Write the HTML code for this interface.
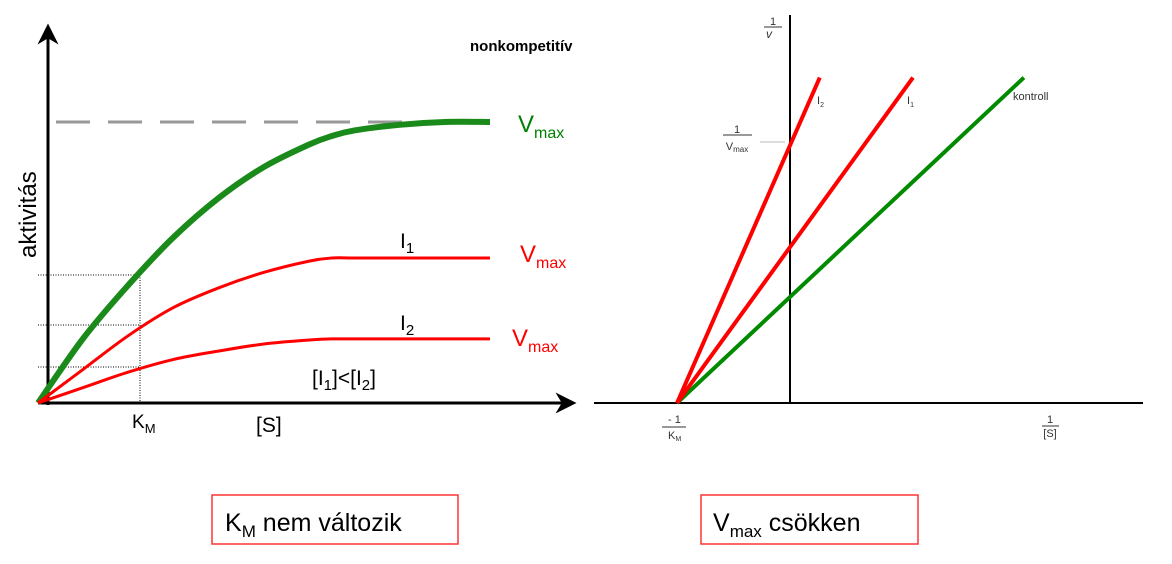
<!DOCTYPE html>
<html><head><meta charset="utf-8"><style>
body{margin:0;background:#fff;width:1172px;height:559px;overflow:hidden;font-family:"Liberation Sans",sans-serif}
svg text{font-family:"Liberation Sans",sans-serif}
</style></head><body>
<svg id="c" width="1172" height="559" xmlns="http://www.w3.org/2000/svg">
<defs>
<marker id="ah" viewBox="0 0 10 10" refX="5" refY="5" markerWidth="7" markerHeight="7" orient="auto"><path d="M0,0 L10,5 L0,10 L3,5 z" fill="#000"/></marker>
</defs>
<g id="left">
<line x1="38" y1="403" x2="566" y2="403" stroke="#000" stroke-width="3" marker-end="url(#ah)"/>
<line x1="48" y1="405" x2="48" y2="34" stroke="#000" stroke-width="3" marker-end="url(#ah)"/>
<line x1="56" y1="122" x2="405" y2="122" stroke="#999" stroke-width="3" stroke-dasharray="34,18"/>
<g id="dots" stroke="#000" stroke-width="1" stroke-dasharray="1,1.5">
<line x1="38" y1="275" x2="140" y2="275"/><line x1="38" y1="325" x2="140" y2="325"/><line x1="38" y1="367" x2="140" y2="367"/><line x1="140" y1="275" x2="140" y2="403"/>
</g>
<text x="0" y="0" transform="translate(36,258) rotate(-90)" font-size="24">aktivitás</text>
<text x="132" y="428" font-size="19">K<tspan font-size="13" dy="5">M</tspan></text>
<text x="256" y="432" font-size="21">[S]</text>
<text x="470" y="51" font-size="15" font-weight="bold">nonkompetitív</text>
<text x="518" y="132" font-size="24" fill="#008000">V<tspan font-size="16" dy="6">max</tspan></text>
<text x="520" y="262" font-size="24" fill="#f00">V<tspan font-size="16" dy="6">max</tspan></text>
<text x="512" y="346" font-size="24" fill="#f00">V<tspan font-size="16" dy="6">max</tspan></text>
<text x="400" y="248" font-size="21">I<tspan font-size="15" dy="5">1</tspan></text>
<text x="400" y="330" font-size="21">I<tspan font-size="15" dy="5">2</tspan></text>
<text x="312" y="385" font-size="21">[I<tspan font-size="15" dy="5">1</tspan><tspan dy="-5">]&lt;[I</tspan><tspan font-size="15" dy="5">2</tspan><tspan dy="-5">]</tspan></text>
</g>
<g id="right">
<line x1="594" y1="403" x2="1143" y2="403" stroke="#000" stroke-width="2"/>
<line x1="790" y1="15" x2="790" y2="404" stroke="#000" stroke-width="2"/>
<line x1="760" y1="142" x2="785" y2="142" stroke="#bbb" stroke-width="1"/>
<g font-size="11" fill="#333">
<text x="773" y="25" text-anchor="middle">1</text>
<line x1="764" y1="27" x2="782" y2="27" stroke="#333"/>
<text x="769" y="38" font-style="italic" font-size="12" text-anchor="middle">v</text>
<text x="737" y="133" text-anchor="middle">1</text>
<line x1="723" y1="135" x2="752" y2="135" stroke="#333"/>
<text x="737" y="150" text-anchor="middle">V<tspan font-size="8" dy="2">max</tspan></text>
<text x="668" y="423">- 1</text>
<line x1="662" y1="427" x2="686" y2="427" stroke="#333"/>
<text x="668" y="439">K<tspan font-size="7" dy="2">M</tspan></text>
<text x="1050" y="423" text-anchor="middle">1</text>
<line x1="1042" y1="426" x2="1059" y2="426" stroke="#333"/>
<text x="1050" y="437" text-anchor="middle">[S]</text>
<text x="817" y="104">I<tspan font-size="7" dy="3">2</tspan></text>
<text x="907" y="104">I<tspan font-size="7" dy="3">1</tspan></text>
<text x="1013" y="100">kontroll</text>
</g>
</g>
<rect x="212" y="495" width="246" height="49" fill="none" stroke="#f33" stroke-width="1.5"/>
<text x="225" y="531" font-size="25">K<tspan font-size="17" dy="6">M</tspan><tspan dy="-6"> nem változik</tspan></text>
<rect x="701" y="495" width="217" height="49" fill="none" stroke="#f33" stroke-width="1.5"/>
<text x="713" y="531" font-size="25">V<tspan font-size="17" dy="6">max</tspan><tspan dy="-6"> csökken</tspan></text>
</svg>
<script>
// Left chart data (substrate in arbitrary units 0..10, activity as fraction of control Vmax)
const sVals = [0,1,2,3,4,5,6,6.5,7,8,9,10];
const controlV = [0,0.23,0.42,0.59,0.73,0.84,0.92,0.95,0.97,0.99,1,1];
const i1V = [0,0.12,0.24,0.34,0.41,0.465,0.505,0.516,0.516,0.516,0.516,0.516];
const i2V = [0,0.055,0.11,0.155,0.185,0.21,0.224,0.228,0.228,0.228,0.228,0.228];
// Right chart data: y-intercepts (1/v at 1/[S]=0) relative to control; x-intercept -1/KM
const lbSeries = ['kontroll','I1','I2'];
const lbIntercepts = [1.0,1.47,2.43];
const lbXIntercept = -1;
const lbTop = 3.07;

const NS='http://www.w3.org/2000/svg';
const xL=s=>38+s*45.2, yL=v=>403-v*281;
function smoothPath(pts){
  let d='M'+pts[0][0]+','+pts[0][1];
  for(let i=0;i<pts.length-1;i++){
    const p0=pts[Math.max(0,i-1)],p1=pts[i],p2=pts[i+1],p3=pts[Math.min(pts.length-1,i+2)];
    const c1x=p1[0]+(p2[0]-p0[0])/6,c1y=p1[1]+(p2[1]-p0[1])/6;
    const c2x=p2[0]-(p3[0]-p1[0])/6,c2y=p2[1]-(p3[1]-p1[1])/6;
    d+=' C'+c1x+','+c1y+' '+c2x+','+c2y+' '+p2[0]+','+p2[1];
  }
  return d;
}
function curve(vals,color,w,name){
  const p=document.createElementNS(NS,'path');
  p.setAttribute('d',smoothPath(sVals.map((s,i)=>[xL(s),yL(vals[i])])));
  p.setAttribute('fill','none');p.setAttribute('stroke',color);p.setAttribute('stroke-width',w);
  
  
  document.getElementById('left').appendChild(p);
}
curve(controlV,'#1a8a1a',6,'control-curve');
curve(i1V,'#f00',3,'i1-curve');
curve(i2V,'#f00',3,'i2-curve');
const xR=x=>790+x*113, yR=y=>403-y*106;
const colors=['#008a00','#f00','#f00'];
lbSeries.forEach((n,i)=>{
  const b=lbIntercepts[i];
  const xe=lbTop/b+lbXIntercept;
  const l=document.createElementNS(NS,'line');
  l.setAttribute('x1',xR(lbXIntercept));l.setAttribute('y1',yR(0));
  l.setAttribute('x2',xR(xe));l.setAttribute('y2',yR(b*(xe-lbXIntercept)));
  l.setAttribute('stroke',colors[i]);l.setAttribute('stroke-width',4);
  
  
  document.getElementById('right').appendChild(l);
});
</script>
</body></html>
